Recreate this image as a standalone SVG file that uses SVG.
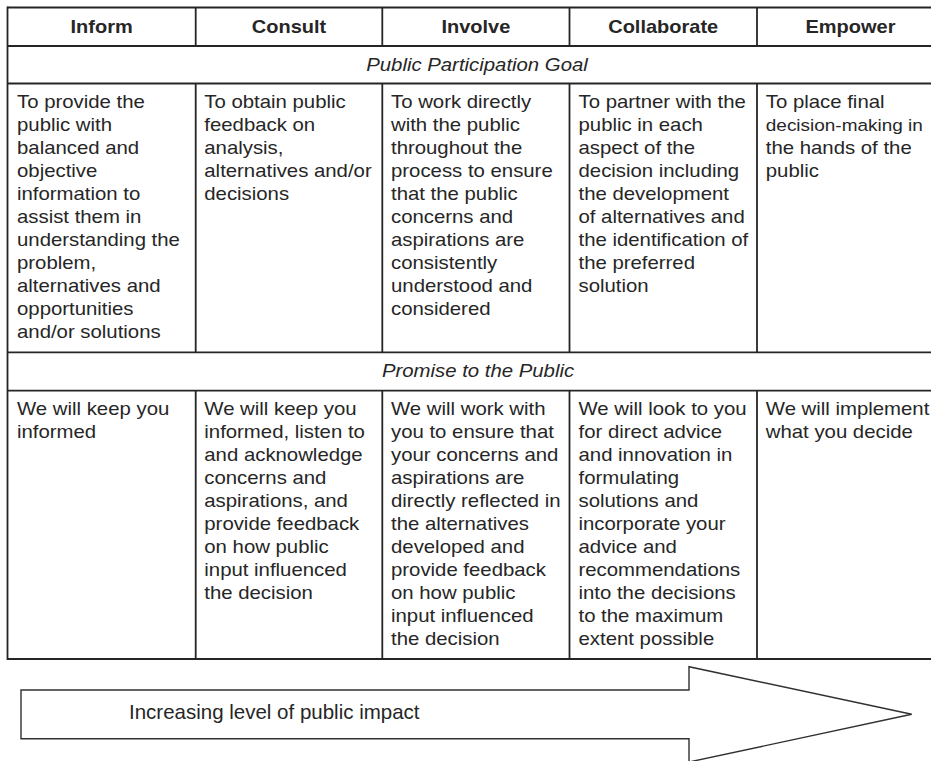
<svg xmlns="http://www.w3.org/2000/svg" width="931" height="761" viewBox="0 0 931 761">
<style>
.grid line{stroke:#252525;stroke-width:1.8;fill:none}
text{font-family:"Liberation Sans",Arial,sans-serif;fill:#262626}
.h{font-size:17.7px;font-weight:bold;text-anchor:middle}
.s{font-size:17.7px;font-style:italic;text-anchor:middle}
.b{font-size:17.7px}
.arrow{fill:#fff;stroke:#303030;stroke-width:1.4;stroke-linejoin:miter}
.at{font-size:20px}
</style>
<rect x="0" y="0" width="931" height="761" fill="#fff"/>
<g id="grid" class="grid">
<line x1="7.5" y1="7.5" x2="945" y2="7.5"/>
<line x1="7.5" y1="46" x2="945" y2="46"/>
<line x1="7.5" y1="83.5" x2="945" y2="83.5"/>
<line x1="7.5" y1="352.3" x2="945" y2="352.3"/>
<line x1="7.5" y1="390.7" x2="945" y2="390.7"/>
<line x1="7.5" y1="659" x2="945" y2="659"/>
<line x1="7.5" y1="6.6" x2="7.5" y2="659.9"/>
<line x1="195.7" y1="7.5" x2="195.7" y2="46"/>
<line x1="382.3" y1="7.5" x2="382.3" y2="46"/>
<line x1="569.5" y1="7.5" x2="569.5" y2="46"/>
<line x1="757" y1="7.5" x2="757" y2="46"/>
<line x1="195.7" y1="83.5" x2="195.7" y2="352.3"/>
<line x1="382.3" y1="83.5" x2="382.3" y2="352.3"/>
<line x1="569.5" y1="83.5" x2="569.5" y2="352.3"/>
<line x1="757" y1="83.5" x2="757" y2="352.3"/>
<line x1="195.7" y1="390.7" x2="195.7" y2="659"/>
<line x1="382.3" y1="390.7" x2="382.3" y2="659"/>
<line x1="569.5" y1="390.7" x2="569.5" y2="659"/>
<line x1="757" y1="390.7" x2="757" y2="659"/>
</g>
<g id="headers">
<g id="h-inform" transform="translate(101.6,0) scale(1.13,1)"><text class="h" x="0" y="33.3">Inform</text></g>
<g id="h-consult" transform="translate(289,0) scale(1.13,1)"><text class="h" x="0" y="33.3">Consult</text></g>
<g id="h-involve" transform="translate(475.9,0) scale(1.13,1)"><text class="h" x="0" y="33.3">Involve</text></g>
<g id="h-collaborate" transform="translate(663.2,0) scale(1.13,1)"><text class="h" x="0" y="33.3">Collaborate</text></g>
<g id="h-empower" transform="translate(850.5,0) scale(1.13,1)"><text class="h" x="0" y="33.3">Empower</text></g>
</g>
<g id="sec-goal" transform="translate(477,0) scale(1.15,1)"><text class="s" x="0" y="71.5">Public Participation Goal</text></g>
<g id="sec-promise" transform="translate(478,0) scale(1.15,1)"><text class="s" x="0" y="376.7">Promise to the Public</text></g>
<g id="goal-inform" transform="translate(17,0) scale(1.15,1)"><text class="b">
<tspan x="0" y="108.5">To provide the</tspan>
<tspan x="0" y="131.5">public with</tspan>
<tspan x="0" y="154.5">balanced and</tspan>
<tspan x="0" y="177.5">objective</tspan>
<tspan x="0" y="200.5">information to</tspan>
<tspan x="0" y="223.5">assist them in</tspan>
<tspan x="0" y="246.5">understanding the</tspan>
<tspan x="0" y="269.5">problem,</tspan>
<tspan x="0" y="292.5">alternatives and</tspan>
<tspan x="0" y="315.5">opportunities</tspan>
<tspan x="0" y="338.5">and/or solutions</tspan>
</text></g>
<g id="goal-consult" transform="translate(204.3,0) scale(1.15,1)"><text class="b">
<tspan x="0" y="108.5">To obtain public</tspan>
<tspan x="0" y="131.5">feedback on</tspan>
<tspan x="0" y="154.5">analysis,</tspan>
<tspan x="0" y="177.5">alternatives and/or</tspan>
<tspan x="0" y="200.5">decisions</tspan>
</text></g>
<g id="goal-involve" transform="translate(391,0) scale(1.15,1)"><text class="b">
<tspan x="0" y="108.5">To work directly</tspan>
<tspan x="0" y="131.5">with the public</tspan>
<tspan x="0" y="154.5">throughout the</tspan>
<tspan x="0" y="177.5">process to ensure</tspan>
<tspan x="0" y="200.5">that the public</tspan>
<tspan x="0" y="223.5">concerns and</tspan>
<tspan x="0" y="246.5">aspirations are</tspan>
<tspan x="0" y="269.5">consistently</tspan>
<tspan x="0" y="292.5">understood and</tspan>
<tspan x="0" y="315.5">considered</tspan>
</text></g>
<g id="goal-collaborate" transform="translate(578.5,0) scale(1.15,1)"><text class="b">
<tspan x="0" y="108.5">To partner with the</tspan>
<tspan x="0" y="131.5">public in each</tspan>
<tspan x="0" y="154.5">aspect of the</tspan>
<tspan x="0" y="177.5">decision including</tspan>
<tspan x="0" y="200.5">the development</tspan>
<tspan x="0" y="223.5">of alternatives and</tspan>
<tspan x="0" y="246.5">the identification of</tspan>
<tspan x="0" y="269.5">the preferred</tspan>
<tspan x="0" y="292.5">solution</tspan>
</text></g>
<g id="goal-empower" transform="translate(765.8,0) scale(1.15,1)"><text class="b">
<tspan x="0" y="108.5">To place final</tspan>
<tspan x="0" y="154.5">the hands of the</tspan>
<tspan x="0" y="177.5">public</tspan>
</text>
<text class="b" x="0" y="131.5" style="font-size:16.5px">decision-making in</text></g>
<g id="promise-inform" transform="translate(17,0) scale(1.15,1)"><text class="b">
<tspan x="0" y="415.3">We will keep you</tspan>
<tspan x="0" y="438.3">informed</tspan>
</text></g>
<g id="promise-consult" transform="translate(204.3,0) scale(1.15,1)"><text class="b">
<tspan x="0" y="415.3">We will keep you</tspan>
<tspan x="0" y="438.3">informed, listen to</tspan>
<tspan x="0" y="461.3">and acknowledge</tspan>
<tspan x="0" y="484.3">concerns and</tspan>
<tspan x="0" y="507.3">aspirations, and</tspan>
<tspan x="0" y="530.3">provide feedback</tspan>
<tspan x="0" y="553.3">on how public</tspan>
<tspan x="0" y="576.3">input influenced</tspan>
<tspan x="0" y="599.3">the decision</tspan>
</text></g>
<g id="promise-involve" transform="translate(391,0) scale(1.15,1)"><text class="b">
<tspan x="0" y="415.3">We will work with</tspan>
<tspan x="0" y="438.3">you to ensure that</tspan>
<tspan x="0" y="461.3">your concerns and</tspan>
<tspan x="0" y="484.3">aspirations are</tspan>
<tspan x="0" y="507.3">directly reflected in</tspan>
<tspan x="0" y="530.3">the alternatives</tspan>
<tspan x="0" y="553.3">developed and</tspan>
<tspan x="0" y="576.3">provide feedback</tspan>
<tspan x="0" y="599.3">on how public</tspan>
<tspan x="0" y="622.3">input influenced</tspan>
<tspan x="0" y="645.3">the decision</tspan>
</text></g>
<g id="promise-collaborate" transform="translate(578.5,0) scale(1.15,1)"><text class="b">
<tspan x="0" y="415.3">We will look to you</tspan>
<tspan x="0" y="438.3">for direct advice</tspan>
<tspan x="0" y="461.3">and innovation in</tspan>
<tspan x="0" y="484.3">formulating</tspan>
<tspan x="0" y="507.3">solutions and</tspan>
<tspan x="0" y="530.3">incorporate your</tspan>
<tspan x="0" y="553.3">advice and</tspan>
<tspan x="0" y="576.3">recommendations</tspan>
<tspan x="0" y="599.3">into the decisions</tspan>
<tspan x="0" y="622.3">to the maximum</tspan>
<tspan x="0" y="645.3">extent possible</tspan>
</text></g>
<g id="promise-empower" transform="translate(765.8,0) scale(1.15,1)"><text class="b">
<tspan x="0" y="415.3">We will implement</tspan>
<tspan x="0" y="438.3">what you decide</tspan>
</text></g>
<g id="impact-arrow">
<polygon class="arrow" points="21,690 689,690 689,666.7 911.7,714.3 689,762 689,738.7 21,738.7"/>
<g transform="translate(129,0) scale(1.025,1)"><text class="at" x="0" y="719.3">Increasing level of public impact</text></g>
</g>
</svg>
